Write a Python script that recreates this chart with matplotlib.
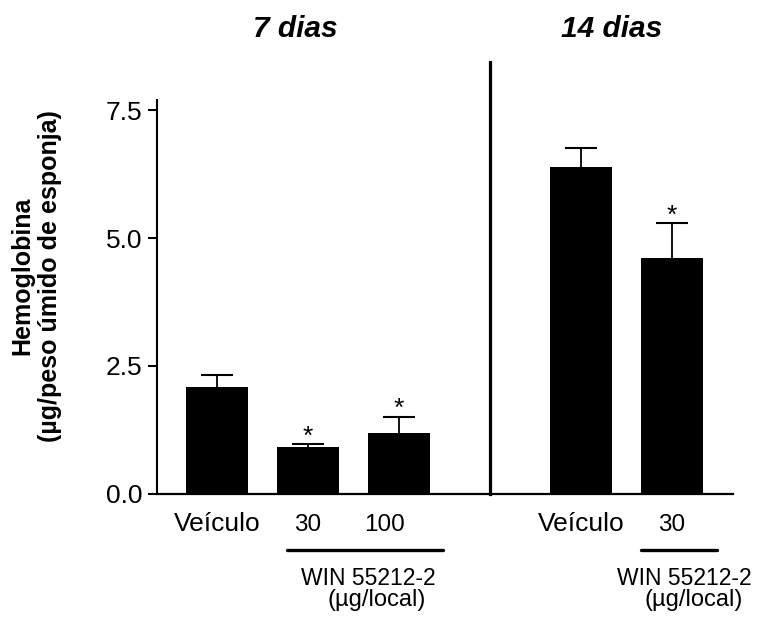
import matplotlib
matplotlib.use("Agg")
import matplotlib.pyplot as plt
import matplotlib.transforms as mtransforms

plt.rcParams['font.family'] = ['Liberation Sans', 'DejaVu Sans']

# data
positions = [0, 1, 2, 4, 5]
means = [2.08, 0.92, 1.20, 6.38, 4.60]
sem = [0.24, 0.05, 0.31, 0.37, 0.69]
significant = [False, True, True, False, True]
tick_labels = ["Veículo", "30", "100", "Veículo", "30"]
group_titles = ["7 dias", "14 dias"]
title_x = [0.86, 4.34]
yticks = [0.0, 2.5, 5.0, 7.5]

fig = plt.figure(figsize=(7.6, 6.23), dpi=100)
ax = fig.add_axes([0.2062, 0.2071, 0.7583, 0.6327])

ax.bar(positions, means, width=0.68, color="black", edgecolor="none", zorder=2)
eb = ax.errorbar(positions, means, yerr=[[0] * len(sem), sem], fmt="none",
                 ecolor="black", elinewidth=1.3, capsize=11.5, capthick=1.5, zorder=3)
eb[1][0].set_visible(False)  # no lower cap, only the upper half of the SEM

for x, m, e, s in zip(positions, means, sem, significant):
    if s:
        ax.text(x, m + e + 0.01, "*", ha="center", va="baseline", fontsize=19)

ax.set_xlim(-0.66, 5.67)
ax.set_ylim(0, 7.7)
ax.set_yticks(yticks)
ax.set_yticklabels(["%.1f" % v for v in yticks])
ax.tick_params(axis="y", direction="out", length=6.5, width=1.5, labelsize=19, pad=4)
ax.set_xticks([])
for side in ["top", "right"]:
    ax.spines[side].set_visible(False)
ax.spines["left"].set_linewidth(1.5)
ax.spines["bottom"].set_linewidth(1.6)

# divider between the two time points
ax.plot([3, 3], [0, 8.44], color="black", lw=2.3, clip_on=False)

trans = mtransforms.blended_transform_factory(ax.transData, ax.transAxes)

# category labels under the axis
for x, lab in zip(positions, tick_labels):
    size = 19 if lab == "Veículo" else 17.5
    ax.text(x - (0.16 if lab == "100" else 0), -0.094, lab, transform=trans,
            ha="center", va="baseline", fontsize=size)

# group lines and WIN labels
for x0, x1, xc in [(0.77, 2.48, 1.66), (4.66, 5.49, 5.14)]:
    ax.plot([x0, x1], [-0.142, -0.142], transform=trans, color="black",
            lw=2.4, solid_capstyle="round", clip_on=False)
    ax.text(xc, -0.231, "WIN 55212-2", transform=trans, ha="center",
            va="baseline", fontsize=16.5)
    ax.text(xc + 0.1, -0.283, "(µg/local)", transform=trans, ha="center",
            va="baseline", fontsize=17)

for x, t in zip(title_x, group_titles):
    ax.text(x, 1.159, t, transform=trans, ha="center", va="baseline",
            fontsize=21.5, fontweight="bold", fontstyle="italic")

ax.text(-0.209, 0.553, "Hemoglobina\n(µg/peso úmido de esponja)",
        transform=ax.transAxes, rotation=90, ha="center", va="center",
        multialignment="center", fontsize=18, fontweight="bold", linespacing=1.2)

fig.savefig("out.png", dpi=100)
